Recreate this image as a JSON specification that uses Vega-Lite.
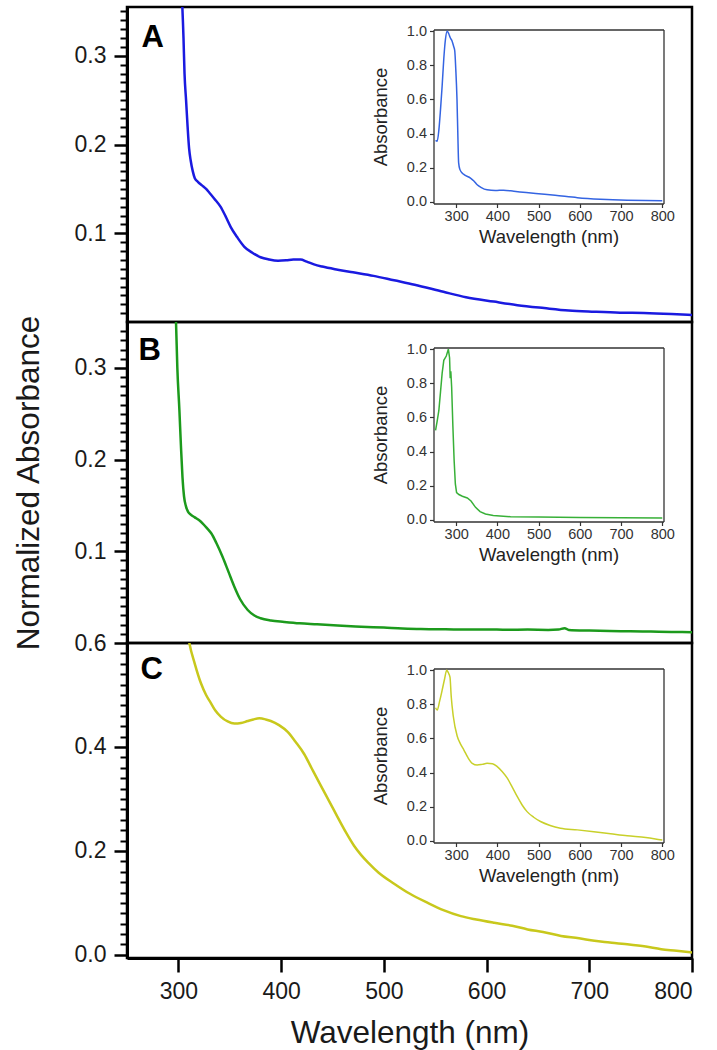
{
  "$schema": "https://vega.github.io/schema/vega-lite/v6.json",
  "background": "white",
  "padding": {"left": 13, "top": 5, "right": 8, "bottom": 2},
  "spacing": 0,
  "bounds": "flush",
  "config": {
    "font": "Liberation Sans",
    "view": {"stroke": "black", "strokeWidth": 2.5},
    "axis": {"grid": false, "ticks": true, "labelColor": "#1a1a1a", "titleColor": "#1a1a1a", "titleFontWeight": "normal", "domainColor": "black", "tickColor": "#000000", "tickOpacity": 1}
  },
  "datasets": {
    "mainA": [
      {"wl": 302, "abs": 0.40}, {"wl": 305, "abs": 0.32}, {"wl": 306, "abs": 0.28}, {"wl": 307.5, "abs": 0.25},
      {"wl": 309, "abs": 0.22}, {"wl": 310.5, "abs": 0.195}, {"wl": 312, "abs": 0.182}, {"wl": 314, "abs": 0.17},
      {"wl": 316, "abs": 0.162}, {"wl": 319, "abs": 0.158}, {"wl": 323, "abs": 0.154}, {"wl": 327, "abs": 0.150},
      {"wl": 330, "abs": 0.146}, {"wl": 335, "abs": 0.139}, {"wl": 341, "abs": 0.130}, {"wl": 346, "abs": 0.119},
      {"wl": 351, "abs": 0.107}, {"wl": 357, "abs": 0.096}, {"wl": 364, "abs": 0.085}, {"wl": 372, "abs": 0.078},
      {"wl": 380, "abs": 0.073}, {"wl": 388, "abs": 0.0705}, {"wl": 397, "abs": 0.069}, {"wl": 405, "abs": 0.0695},
      {"wl": 412, "abs": 0.0705}, {"wl": 419, "abs": 0.0705}, {"wl": 425, "abs": 0.068}, {"wl": 432, "abs": 0.065},
      {"wl": 440, "abs": 0.0625}, {"wl": 455, "abs": 0.059}, {"wl": 470, "abs": 0.056}, {"wl": 490, "abs": 0.052},
      {"wl": 510, "abs": 0.047}, {"wl": 530, "abs": 0.042}, {"wl": 558, "abs": 0.034}, {"wl": 580, "abs": 0.028},
      {"wl": 607, "abs": 0.023}, {"wl": 630, "abs": 0.019}, {"wl": 656, "abs": 0.0157}, {"wl": 680, "abs": 0.013},
      {"wl": 705, "abs": 0.0116}, {"wl": 730, "abs": 0.0105}, {"wl": 753, "abs": 0.0101}, {"wl": 780, "abs": 0.009},
      {"wl": 800, "abs": 0.0079}
    ],
    "mainB": [
      {"wl": 295, "abs": 0.40}, {"wl": 297.7, "abs": 0.35}, {"wl": 299, "abs": 0.30}, {"wl": 301, "abs": 0.254},
      {"wl": 302.5, "abs": 0.215}, {"wl": 304, "abs": 0.181}, {"wl": 305.5, "abs": 0.16}, {"wl": 307.4, "abs": 0.149},
      {"wl": 309.5, "abs": 0.143}, {"wl": 312, "abs": 0.140}, {"wl": 316, "abs": 0.137}, {"wl": 320, "abs": 0.134},
      {"wl": 324, "abs": 0.130}, {"wl": 328, "abs": 0.125}, {"wl": 332, "abs": 0.1196}, {"wl": 337, "abs": 0.109},
      {"wl": 343, "abs": 0.094}, {"wl": 349, "abs": 0.077}, {"wl": 354.5, "abs": 0.0614}, {"wl": 360, "abs": 0.048},
      {"wl": 367.5, "abs": 0.036}, {"wl": 374, "abs": 0.030}, {"wl": 380, "abs": 0.027}, {"wl": 390, "abs": 0.0245},
      {"wl": 403, "abs": 0.023}, {"wl": 418, "abs": 0.0215}, {"wl": 435, "abs": 0.0204}, {"wl": 455, "abs": 0.019},
      {"wl": 478, "abs": 0.0178}, {"wl": 500, "abs": 0.0168}, {"wl": 518, "abs": 0.0158}, {"wl": 536, "abs": 0.0152},
      {"wl": 560, "abs": 0.0150}, {"wl": 580, "abs": 0.0146}, {"wl": 600, "abs": 0.0148}, {"wl": 620, "abs": 0.0144},
      {"wl": 640, "abs": 0.0146}, {"wl": 660, "abs": 0.0143}, {"wl": 670, "abs": 0.0147}, {"wl": 676, "abs": 0.0162},
      {"wl": 680, "abs": 0.0142}, {"wl": 700, "abs": 0.0135}, {"wl": 720, "abs": 0.0131}, {"wl": 740, "abs": 0.0128},
      {"wl": 760, "abs": 0.0125}, {"wl": 780, "abs": 0.0121}, {"wl": 800, "abs": 0.0117}
    ],
    "mainC": [
      {"wl": 305, "abs": 0.68}, {"wl": 310.7, "abs": 0.60}, {"wl": 316, "abs": 0.56}, {"wl": 322, "abs": 0.5225},
      {"wl": 327, "abs": 0.50}, {"wl": 331.8, "abs": 0.484}, {"wl": 336, "abs": 0.47}, {"wl": 341.5, "abs": 0.458},
      {"wl": 348, "abs": 0.449}, {"wl": 354.5, "abs": 0.445}, {"wl": 361, "abs": 0.446}, {"wl": 367.5, "abs": 0.450},
      {"wl": 373, "abs": 0.453}, {"wl": 378.8, "abs": 0.455}, {"wl": 385, "abs": 0.453}, {"wl": 390, "abs": 0.450},
      {"wl": 398, "abs": 0.442}, {"wl": 406.4, "abs": 0.429}, {"wl": 414, "abs": 0.41}, {"wl": 422.6, "abs": 0.386},
      {"wl": 430, "abs": 0.358}, {"wl": 438.8, "abs": 0.325}, {"wl": 447, "abs": 0.295}, {"wl": 455, "abs": 0.265},
      {"wl": 463, "abs": 0.236}, {"wl": 471, "abs": 0.210}, {"wl": 478, "abs": 0.192}, {"wl": 485, "abs": 0.177},
      {"wl": 495, "abs": 0.158}, {"wl": 510, "abs": 0.137}, {"wl": 525, "abs": 0.118}, {"wl": 542.7, "abs": 0.100},
      {"wl": 558, "abs": 0.086}, {"wl": 575, "abs": 0.0745}, {"wl": 590, "abs": 0.068}, {"wl": 607.5, "abs": 0.0617},
      {"wl": 625, "abs": 0.056}, {"wl": 640, "abs": 0.049}, {"wl": 655, "abs": 0.044}, {"wl": 672.5, "abs": 0.0365},
      {"wl": 690, "abs": 0.032}, {"wl": 705, "abs": 0.027}, {"wl": 720, "abs": 0.024}, {"wl": 737, "abs": 0.0205},
      {"wl": 755, "abs": 0.016}, {"wl": 770, "abs": 0.011}, {"wl": 785, "abs": 0.008}, {"wl": 800, "abs": 0.0045}
    ],
    "insetA": [
      {"wl": 250, "abs": 0.36}, {"wl": 254, "abs": 0.355}, {"wl": 258, "abs": 0.42}, {"wl": 262, "abs": 0.54},
      {"wl": 266, "abs": 0.68}, {"wl": 270, "abs": 0.84}, {"wl": 274, "abs": 0.953}, {"wl": 278, "abs": 1.0},
      {"wl": 282, "abs": 0.985}, {"wl": 286, "abs": 0.96}, {"wl": 290, "abs": 0.943}, {"wl": 294, "abs": 0.91},
      {"wl": 296.6, "abs": 0.884}, {"wl": 299, "abs": 0.78}, {"wl": 302, "abs": 0.6}, {"wl": 304, "abs": 0.40},
      {"wl": 306, "abs": 0.228}, {"wl": 309, "abs": 0.19}, {"wl": 314.5, "abs": 0.169}, {"wl": 320, "abs": 0.158},
      {"wl": 334.7, "abs": 0.139}, {"wl": 343, "abs": 0.122}, {"wl": 351, "abs": 0.1}, {"wl": 360, "abs": 0.085},
      {"wl": 375, "abs": 0.07}, {"wl": 395, "abs": 0.066}, {"wl": 415, "abs": 0.068}, {"wl": 440, "abs": 0.062},
      {"wl": 470, "abs": 0.054}, {"wl": 500, "abs": 0.047}, {"wl": 540, "abs": 0.038}, {"wl": 594, "abs": 0.024},
      {"wl": 650, "abs": 0.015}, {"wl": 715, "abs": 0.009}, {"wl": 760, "abs": 0.007}, {"wl": 800, "abs": 0.006}
    ],
    "insetB": [
      {"wl": 250, "abs": 0.524}, {"wl": 254, "abs": 0.58}, {"wl": 258, "abs": 0.641}, {"wl": 262, "abs": 0.75},
      {"wl": 266, "abs": 0.86}, {"wl": 270, "abs": 0.935}, {"wl": 276, "abs": 0.96}, {"wl": 281, "abs": 1.0},
      {"wl": 284, "abs": 0.95}, {"wl": 285.5, "abs": 0.83}, {"wl": 287, "abs": 0.87}, {"wl": 289, "abs": 0.78},
      {"wl": 292, "abs": 0.55}, {"wl": 295, "abs": 0.35}, {"wl": 298, "abs": 0.21}, {"wl": 301, "abs": 0.16},
      {"wl": 306.6, "abs": 0.148}, {"wl": 315, "abs": 0.138}, {"wl": 327, "abs": 0.128}, {"wl": 336, "abs": 0.11},
      {"wl": 347, "abs": 0.073}, {"wl": 358, "abs": 0.048}, {"wl": 371, "abs": 0.034}, {"wl": 390, "abs": 0.025},
      {"wl": 432, "abs": 0.018}, {"wl": 500, "abs": 0.016}, {"wl": 600, "abs": 0.014}, {"wl": 700, "abs": 0.012},
      {"wl": 800, "abs": 0.01}
    ],
    "insetC": [
      {"wl": 250, "abs": 0.78}, {"wl": 254, "abs": 0.766}, {"wl": 260, "abs": 0.82}, {"wl": 266, "abs": 0.883},
      {"wl": 272, "abs": 0.95}, {"wl": 277, "abs": 1.0}, {"wl": 281, "abs": 0.985}, {"wl": 285, "abs": 0.96},
      {"wl": 288, "abs": 0.846}, {"wl": 293, "abs": 0.73}, {"wl": 302.6, "abs": 0.613}, {"wl": 310, "abs": 0.57},
      {"wl": 318.8, "abs": 0.532}, {"wl": 328, "abs": 0.49}, {"wl": 339, "abs": 0.454}, {"wl": 351, "abs": 0.444},
      {"wl": 363, "abs": 0.448}, {"wl": 375, "abs": 0.454}, {"wl": 388, "abs": 0.452}, {"wl": 399.6, "abs": 0.435},
      {"wl": 412, "abs": 0.405}, {"wl": 424, "abs": 0.367}, {"wl": 436, "abs": 0.315}, {"wl": 448, "abs": 0.26},
      {"wl": 460, "abs": 0.21}, {"wl": 472, "abs": 0.171}, {"wl": 488, "abs": 0.138}, {"wl": 504.6, "abs": 0.113},
      {"wl": 528, "abs": 0.09}, {"wl": 553, "abs": 0.074}, {"wl": 594, "abs": 0.064}, {"wl": 634, "abs": 0.053},
      {"wl": 674.5, "abs": 0.041}, {"wl": 715, "abs": 0.029}, {"wl": 760, "abs": 0.02}, {"wl": 795, "abs": 0.006},
      {"wl": 800, "abs": 0.004}
    ]
  },
  "vconcat": [
    {
      "width": 565, "height": 315,
      "layer": [
        {
          "data": {"name": "mainA"},
          "mark": {"type": "line", "color": "#1a1ae0", "strokeWidth": 2.5, "clip": true, "interpolate": "monotone"},
          "encoding": {
            "x": {"field": "wl", "type": "quantitative", "scale": {"domain": [250, 800], "nice": false, "zero": false}, "axis": null},
            "y": {"field": "abs", "type": "quantitative", "scale": {"domain": [0, 0.355], "nice": false, "zero": false},
              "axis": {"orient": "left", "values": [0.1, 0.2, 0.3], "format": ".1f", "ticks": true, "tickColor": "#000000", "tickSize": 13, "tickWidth": 2.5, "domainWidth": 3, "labelFontSize": 23, "labelPadding": 8, "title": null}}
          }
        },
        {
          "data": {"values": [{}]},
          "mark": {"type": "text", "text": "A", "fontSize": 31, "fontWeight": "bold", "align": "center", "baseline": "alphabetic", "color": "black"},
          "encoding": {
            "x": {"datum": 275, "type": "quantitative", "scale": {"domain": [250, 800], "nice": false, "zero": false}, "axis": null},
            "y": {"datum": 0.31, "type": "quantitative", "scale": {"domain": [0, 0.355], "nice": false, "zero": false},
              "axis": {"orient": "left", "values": [0.01,0.02,0.03,0.04,0.05,0.06,0.07,0.08,0.09,0.11,0.12,0.13,0.14,0.15,0.16,0.17,0.18,0.19,0.21,0.22,0.23,0.24,0.25,0.26,0.27,0.28,0.29,0.31,0.32,0.33,0.34,0.35], "ticks": true, "tickColor": "#000000", "tickSize": 7, "tickWidth": 2, "labels": false, "domain": false, "title": null}}
          }
        },
        {
          "data": {"values": [{}]},
          "mark": {"type": "text", "text": ""},
          "encoding": {
            "x": {"datum": 245, "type": "quantitative", "scale": {"domain": [245, 803], "range": [306.5, 536.5], "nice": false, "zero": false},
              "axis": {"orient": "top", "offset": -22.5, "ticks": false, "labels": false, "domainWidth": 1.3, "domainColor": "#333333", "title": null}},
            "y": {"datum": -0.01, "type": "quantitative", "scale": {"domain": [-0.01, 1.01], "range": [196.5, 22.5], "nice": false, "zero": false},
              "axis": {"orient": "right", "offset": -28.5, "ticks": false, "labels": false, "domainWidth": 1.3, "domainColor": "#333333", "title": null}}
          }
        },
        {
          "data": {"name": "insetA"},
          "mark": {"type": "line", "color": "#3464e2", "strokeWidth": 1.5, "interpolate": "monotone"},
          "encoding": {
            "x": {"field": "wl", "type": "quantitative", "scale": {"domain": [245, 803], "range": [306.5, 536.5], "nice": false, "zero": false},
              "axis": {"orient": "bottom", "offset": -118.5, "values": [300, 400, 500, 600, 700, 800], "ticks": true, "tickSize": 4, "tickWidth": 1.2, "domainWidth": 1.3, "domainColor": "#333333", "tickColor": "#333333", "labelFontSize": 14.5, "labelColor": "#333333", "labelPadding": 2, "title": "Wavelength (nm)", "titleFontSize": 18.5, "titlePadding": 4, "titleColor": "#222222"}},
            "y": {"field": "abs", "type": "quantitative", "scale": {"domain": [-0.01, 1.01], "range": [196.5, 22.5], "nice": false, "zero": false},
              "axis": {"orient": "left", "offset": -306.5, "values": [0, 0.2, 0.4, 0.6, 0.8, 1.0], "format": ".1f", "ticks": true, "tickSize": 4, "tickWidth": 1.2, "domainWidth": 1.3, "domainColor": "#333333", "tickColor": "#333333", "labelFontSize": 14.5, "labelColor": "#333333", "labelPadding": 3, "title": "Absorbance", "titleFontSize": 18.5, "titlePadding": 16, "titleColor": "#222222"}}
          }
        }
      ],
      "resolve": {"scale": {"x": "independent", "y": "independent"}, "axis": {"x": "independent", "y": "independent"}}
    },
    {
      "width": 565, "height": 321,
      "layer": [
        {
          "data": {"name": "mainB"},
          "mark": {"type": "line", "color": "#1c9a1c", "strokeWidth": 2.5, "clip": true, "interpolate": "monotone"},
          "encoding": {
            "x": {"field": "wl", "type": "quantitative", "scale": {"domain": [250, 800], "nice": false, "zero": false}, "axis": null},
            "y": {"field": "abs", "type": "quantitative", "scale": {"domain": [0, 0.35], "nice": false, "zero": false},
              "axis": {"orient": "left", "values": [0.1, 0.2, 0.3], "format": ".1f", "ticks": true, "tickColor": "#000000", "tickSize": 13, "tickWidth": 2.5, "domainWidth": 3, "labelFontSize": 23, "labelPadding": 8, "title": null}}
          }
        },
        {
          "data": {"values": [{}]},
          "mark": {"type": "text", "text": "B", "fontSize": 31, "fontWeight": "bold", "align": "center", "baseline": "alphabetic", "color": "black"},
          "encoding": {
            "x": {"datum": 272, "type": "quantitative", "scale": {"domain": [250, 800], "nice": false, "zero": false}, "axis": null},
            "y": {"datum": 0.309, "type": "quantitative", "scale": {"domain": [0, 0.35], "nice": false, "zero": false},
              "axis": {"orient": "left", "values": [0.01,0.02,0.03,0.04,0.05,0.06,0.07,0.08,0.09,0.11,0.12,0.13,0.14,0.15,0.16,0.17,0.18,0.19,0.21,0.22,0.23,0.24,0.25,0.26,0.27,0.28,0.29,0.31,0.32,0.33,0.34], "ticks": true, "tickColor": "#000000", "tickSize": 7, "tickWidth": 2, "labels": false, "domain": false, "title": null}}
          }
        },
        {
          "data": {"values": [{}]},
          "mark": {"type": "text", "text": ""},
          "encoding": {
            "x": {"datum": 245, "type": "quantitative", "scale": {"domain": [245, 803], "range": [306.5, 536.5], "nice": false, "zero": false},
              "axis": {"orient": "top", "offset": -25.5, "ticks": false, "labels": false, "domainWidth": 1.3, "domainColor": "#333333", "title": null}},
            "y": {"datum": -0.01, "type": "quantitative", "scale": {"domain": [-0.01, 1.01], "range": [199.5, 25.5], "nice": false, "zero": false},
              "axis": {"orient": "right", "offset": -28.5, "ticks": false, "labels": false, "domainWidth": 1.3, "domainColor": "#333333", "title": null}}
          }
        },
        {
          "data": {"name": "insetB"},
          "mark": {"type": "line", "color": "#38b038", "strokeWidth": 1.5},
          "encoding": {
            "x": {"field": "wl", "type": "quantitative", "scale": {"domain": [245, 803], "range": [306.5, 536.5], "nice": false, "zero": false},
              "axis": {"orient": "bottom", "offset": -121.5, "values": [300, 400, 500, 600, 700, 800], "ticks": true, "tickSize": 4, "tickWidth": 1.2, "domainWidth": 1.3, "domainColor": "#333333", "tickColor": "#333333", "labelFontSize": 14.5, "labelColor": "#333333", "labelPadding": 2, "title": "Wavelength (nm)", "titleFontSize": 18.5, "titlePadding": 4, "titleColor": "#222222"}},
            "y": {"field": "abs", "type": "quantitative", "scale": {"domain": [-0.01, 1.01], "range": [199.5, 25.5], "nice": false, "zero": false},
              "axis": {"orient": "left", "offset": -306.5, "values": [0, 0.2, 0.4, 0.6, 0.8, 1.0], "format": ".1f", "ticks": true, "tickSize": 4, "tickWidth": 1.2, "domainWidth": 1.3, "domainColor": "#333333", "tickColor": "#333333", "labelFontSize": 14.5, "labelColor": "#333333", "labelPadding": 3, "title": "Absorbance", "titleFontSize": 18.5, "titlePadding": 16, "titleColor": "#222222"}}
          }
        }
      ],
      "resolve": {"scale": {"x": "independent", "y": "independent"}, "axis": {"x": "independent", "y": "independent"}}
    },
    {
      "width": 565, "height": 315,
      "layer": [
        {
          "data": {"name": "mainC"},
          "mark": {"type": "line", "color": "#c8c81c", "strokeWidth": 2.5, "clip": true, "interpolate": "monotone"},
          "encoding": {
            "x": {"field": "wl", "type": "quantitative", "scale": {"domain": [250, 800], "nice": false, "zero": false},
              "axis": {"orient": "bottom", "values": [300, 400, 500, 600, 700, 800], "ticks": true, "tickColor": "#000000", "tickSize": 14, "tickWidth": 2.5, "domainWidth": 3, "labelFontSize": 23, "labelPadding": 8, "title": null}},
            "y": {"field": "abs", "type": "quantitative", "scale": {"domain": [-0.006, 0.6], "nice": false, "zero": false},
              "axis": {"orient": "left", "values": [0, 0.2, 0.4, 0.6], "format": ".1f", "ticks": true, "tickColor": "#000000", "tickSize": 13, "tickWidth": 2.5, "domainWidth": 3, "labelFontSize": 23, "labelPadding": 8, "title": null}}
          }
        },
        {
          "data": {"values": [{}]},
          "mark": {"type": "text", "text": "C", "fontSize": 31, "fontWeight": "bold", "align": "center", "baseline": "alphabetic", "color": "black"},
          "encoding": {
            "x": {"datum": 274, "type": "quantitative", "scale": {"domain": [250, 800], "nice": false, "zero": false}, "axis": null},
            "y": {"datum": 0.53, "type": "quantitative", "scale": {"domain": [-0.006, 0.6], "nice": false, "zero": false},
              "axis": {"orient": "left", "values": [0.02,0.04,0.06,0.08,0.1,0.12,0.14,0.16,0.18,0.22,0.24,0.26,0.28,0.3,0.32,0.34,0.36,0.38,0.42,0.44,0.46,0.48,0.5,0.52,0.54,0.56,0.58], "ticks": true, "tickColor": "#000000", "tickSize": 7, "tickWidth": 2, "labels": false, "domain": false, "title": null}}
          }
        },
        {
          "data": {"values": [{}]},
          "mark": {"type": "text", "text": ""},
          "encoding": {
            "x": {"datum": 245, "type": "quantitative", "scale": {"domain": [245, 803], "range": [306.5, 536.5], "nice": false, "zero": false},
              "axis": {"orient": "top", "offset": -25.5, "ticks": false, "labels": false, "domainWidth": 1.3, "domainColor": "#333333", "title": null}},
            "y": {"datum": -0.01, "type": "quantitative", "scale": {"domain": [-0.01, 1.01], "range": [199.5, 25.5], "nice": false, "zero": false},
              "axis": {"orient": "right", "offset": -28.5, "ticks": false, "labels": false, "domainWidth": 1.3, "domainColor": "#333333", "title": null}}
          }
        },
        {
          "data": {"name": "insetC"},
          "mark": {"type": "line", "color": "#c8d02a", "strokeWidth": 1.5, "interpolate": "monotone"},
          "encoding": {
            "x": {"field": "wl", "type": "quantitative", "scale": {"domain": [245, 803], "range": [306.5, 536.5], "nice": false, "zero": false},
              "axis": {"orient": "bottom", "offset": -115.5, "values": [300, 400, 500, 600, 700, 800], "ticks": true, "tickSize": 4, "tickWidth": 1.2, "domainWidth": 1.3, "domainColor": "#333333", "tickColor": "#333333", "labelFontSize": 14.5, "labelColor": "#333333", "labelPadding": 2, "title": "Wavelength (nm)", "titleFontSize": 18.5, "titlePadding": 4, "titleColor": "#222222"}},
            "y": {"field": "abs", "type": "quantitative", "scale": {"domain": [-0.01, 1.01], "range": [199.5, 25.5], "nice": false, "zero": false},
              "axis": {"orient": "left", "offset": -306.5, "values": [0, 0.2, 0.4, 0.6, 0.8, 1.0], "format": ".1f", "ticks": true, "tickSize": 4, "tickWidth": 1.2, "domainWidth": 1.3, "domainColor": "#333333", "tickColor": "#333333", "labelFontSize": 14.5, "labelColor": "#333333", "labelPadding": 3, "title": "Absorbance", "titleFontSize": 18.5, "titlePadding": 16, "titleColor": "#222222"}}
          }
        }
      ],
      "resolve": {"scale": {"x": "independent", "y": "independent"}, "axis": {"x": "independent", "y": "independent"}}
    },
    {
      "width": 565, "height": 1,
      "view": {"stroke": null},
      "data": {"values": [{}]},
      "mark": {"type": "text", "text": ""},
      "encoding": {
        "x": {"datum": 525, "type": "quantitative", "scale": {"domain": [250, 800], "nice": false, "zero": false},
          "axis": {"orient": "bottom", "ticks": false, "labels": false, "domain": false, "title": "Wavelength (nm)", "titleFontSize": 31.5, "titlePadding": 58}},
        "y": {"datum": 0.5, "type": "quantitative", "scale": {"domain": [0, 1], "nice": false, "zero": false},
          "axis": {"orient": "left", "ticks": false, "labels": false, "domain": false, "title": "Normalized Absorbance", "titleFontSize": 31.5, "titleX": -82, "titleY": -475.5}}
      }
    }
  ]
}
